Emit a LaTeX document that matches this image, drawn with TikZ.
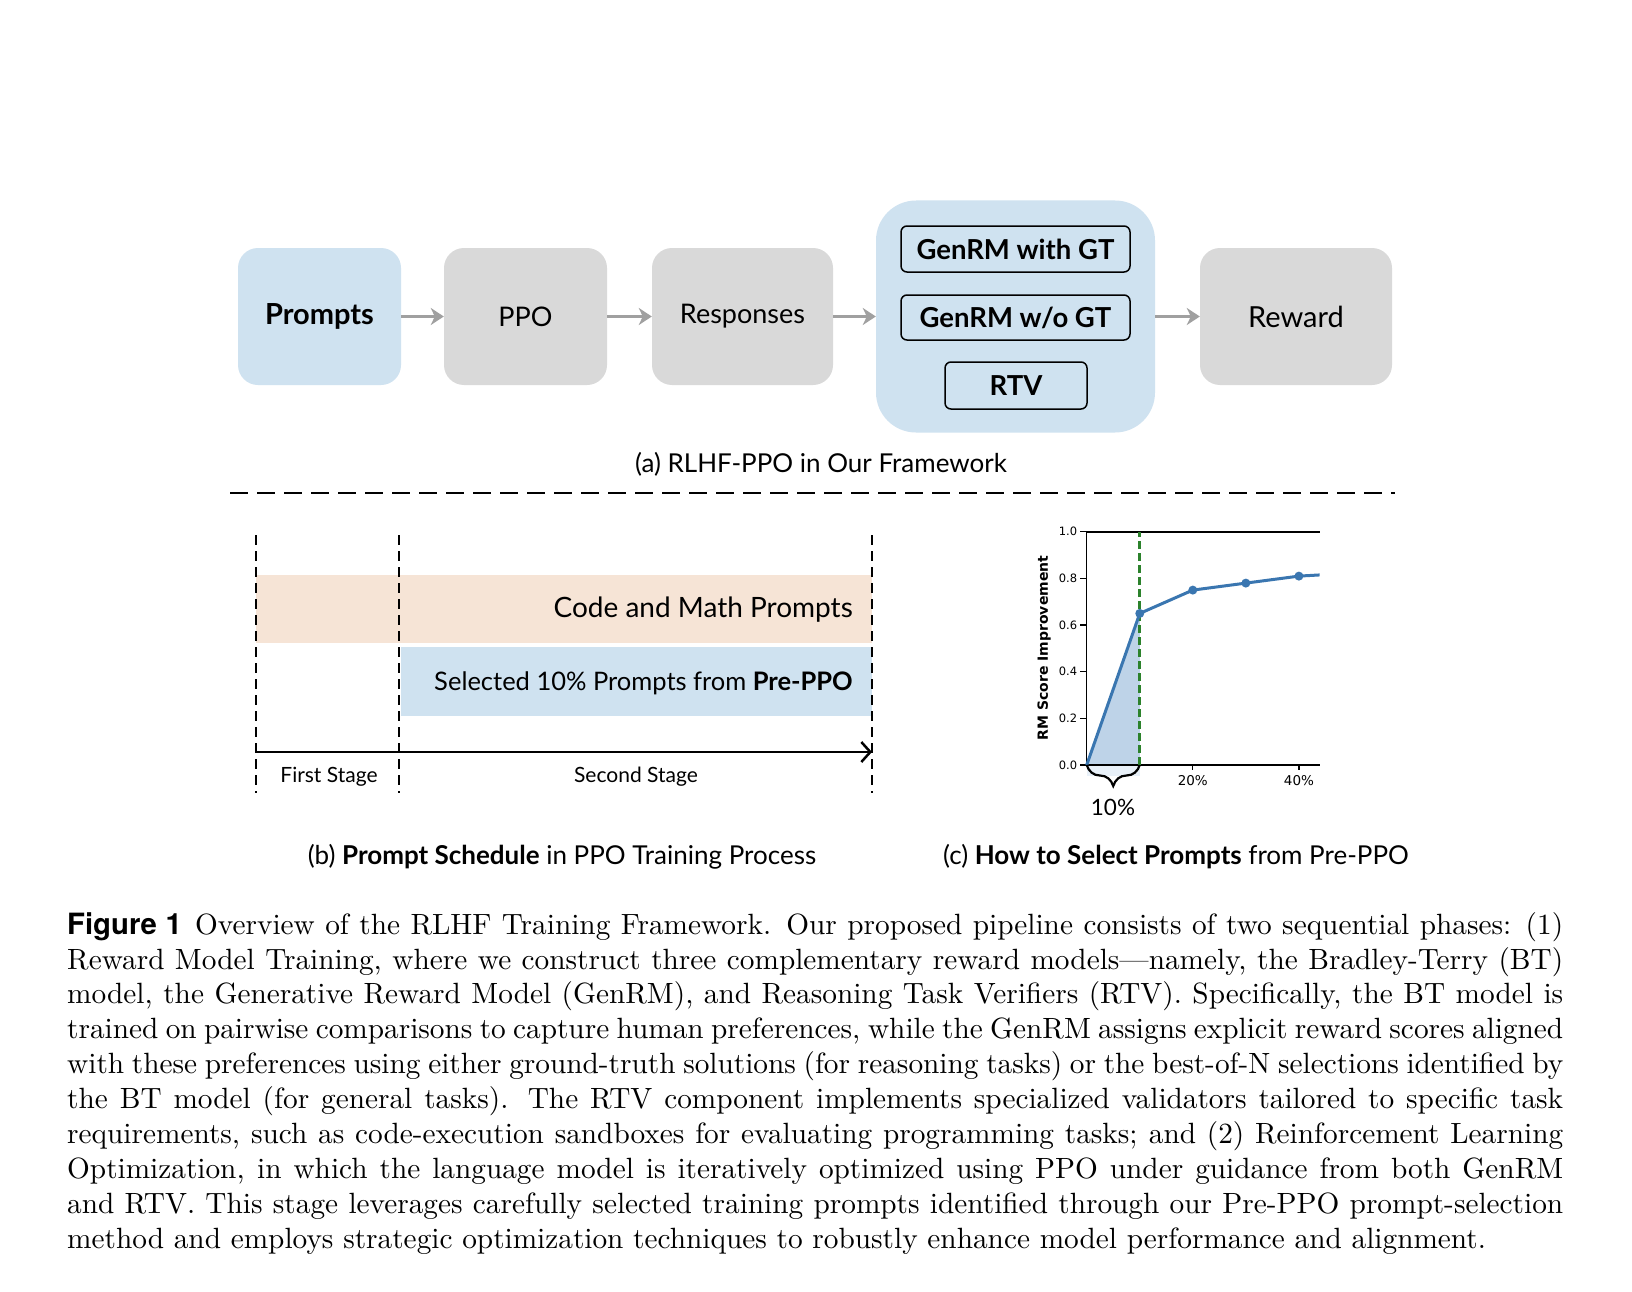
\documentclass[tikz,border=0pt]{standalone}
\usepackage{fontspec}
\newfontfamily\dfont{Lato}
\newfontfamily\heros{TeX Gyre Heros}
\newfontfamily\dejavu{DejaVu Sans}
\newfontfamily\capfont{lmroman10-regular.otf}
\usetikzlibrary{arrows.meta,decorations.pathreplacing}
\definecolor{lblue}{RGB}{207,226,240}
\definecolor{lgray}{RGB}{217,217,217}
\definecolor{peach}{RGB}{246,228,214}
\definecolor{arrgray}{RGB}{160,160,160}
\definecolor{pblue}{RGB}{58,118,176}
\definecolor{pfill}{RGB}{190,211,232}
\definecolor{bracefill}{RGB}{232,240,248}
\definecolor{pgreen}{RGB}{44,130,44}
\tikzset{
  bigbox/.style={rounded corners=20pt, minimum height=137pt, inner sep=0pt,
    font=\dfont\fontsize{27}{32}\selectfont},
  inbox/.style={draw=black, line width=1.5pt, rounded corners=6pt, fill=lblue, inner sep=0pt,
    font=\dfont\bfseries\fontsize{27.5}{32}\selectfont},
  garrow/.style={draw=arrgray, line width=3pt, -{Stealth[length=13pt,width=17pt,inset=4pt]}},
  subcap/.style={font=\dfont\fontsize{26}{30}\selectfont, inner sep=0pt},
  vdash/.style={line width=2.5pt, dash pattern=on 10pt off 6pt},
  band/.style={anchor=north west, inner sep=0pt},
  bandtext/.style={anchor=east, inner sep=0pt, font=\dfont\fontsize{28}{32}\selectfont},
  stagetext/.style={inner sep=0pt, font=\dfont\fontsize{21}{25}\selectfont},
  ytick/.style={left, inner sep=2pt, font=\dejavu\fontsize{11.5}{13}\selectfont},
  xtick/.style={below, inner sep=5pt, font=\dejavu\fontsize{13.5}{16}\selectfont},
}
\begin{document}
\begin{tikzpicture}[x=1pt,y=-1pt]
\useasboundingbox[fill=white] (0,0) rectangle (1632,1292);

% ---------- (a) pipeline ----------
\node[bigbox, fill=lblue, minimum width=163pt, font=\dfont\bfseries\fontsize{29}{34}\selectfont] (prompts) at (319.5,316.5) {Prompts};
\node[bigbox, fill=lgray, minimum width=163pt] (ppo) at (525.5,316.5) {PPO};
\node[bigbox, fill=lgray, minimum width=181pt] (resp) at (742.5,316.5) {Responses};
\node[fill=lblue, rounded corners=40pt, minimum width=279pt, minimum height=232pt, inner sep=0pt] (rm) at (1015.5,316.5) {};
\node[inbox, minimum width=229pt, minimum height=46pt] (gt) at (1015.5,249) {GenRM with GT};
\node[inbox, minimum width=229pt, minimum height=45pt] (nogt) at (1015.5,317.5) {GenRM w/o GT};
\node[inbox, minimum width=142pt, minimum height=47pt] (rtv) at (1016,385.5) {RTV};
\node[bigbox, fill=lgray, minimum width=192pt, font=\dfont\fontsize{29}{34}\selectfont] (reward) at (1296,316.5) {Reward};

\draw[garrow] (prompts) -- (ppo);
\draw[garrow] (ppo) -- (resp);
\draw[garrow] (resp) -- (rm);
\draw[garrow] (rm) -- (reward);

\node[subcap] (capa) at (821,464) {(a) RLHF-PPO in Our Framework};

\coordinate (dl) at (230,493);
\coordinate (dr) at (1395,493);
\draw[line width=2.5pt, dash pattern=on 18pt off 9pt] (dl) -- (dr);

% ---------- (b) prompt schedule ----------
\node[band, fill=peach, minimum width=616pt, minimum height=68pt] (peachband) at (256,575) {};
\node[band, fill=lblue, minimum width=471pt, minimum height=69pt] (blueband) at (401,647) {};
\node[bandtext] (cmp) at (853,610) {Code and Math Prompts};
\node[bandtext, font=\dfont\fontsize{25.5}{30}\selectfont] (sel) at (853,683) {Selected 10\% Prompts from \textbf{Pre-PPO}};

\coordinate (v1t) at (256,535); \coordinate (v1b) at (256,793);
\coordinate (v2t) at (399,535); \coordinate (v2b) at (399,793);
\coordinate (v3t) at (872,535); \coordinate (v3b) at (872,793);
\draw[vdash] (v1t) -- (v1b);
\draw[vdash] (v2t) -- (v2b);
\draw[vdash] (v3t) -- (v3b);

\coordinate (tl) at (256,752);
\coordinate (tr) at (872,752);
\draw[line width=2.5pt, -{Straight Barb[length=9pt,width=20pt,line width=2.5pt]}] (tl) -- (tr);

\node[stagetext] (first) at (329,777) {First Stage};
\node[stagetext] (second) at (636,777) {Second Stage};

\node[subcap] (capb) at (562,857) {(b) \textbf{Prompt Schedule} in PPO Training Process};
\node[subcap] (capc) at (1176,857) {(c) \textbf{How to Select Prompts} from Pre-PPO};

% ---------- (c) plot ----------
\begin{scope}[shift={(1086.7,765)}, x=5.305pt, y=233.2pt]
  \fill[bracefill] (0,0) rectangle (10,-0.045);
  \fill[pfill] (0,0) -- (10,0.65) -- (10,0) -- cycle;
  \draw[line width=1.4pt] (0,1) -- (0,0) -- (43.9,0);
  \draw[line width=1.4pt] (0,1) -- (43.9,1);
  \foreach \v/\l in {0/0.0,0.2/0.2,0.4/0.4,0.6/0.6,0.8/0.8,1/1.0}
    \draw[line width=1.2pt] (0,\v) -- ++(-7pt,0) node[ytick] {\l};
  \foreach \p in {20,40}
    \draw[line width=1.2pt] (\p,0) -- ++(0,-5pt) node[xtick] {\p\%};
  \draw[pgreen, line width=3pt, dash pattern=on 8pt off 4pt] (10,0) -- (10,1);
  \draw[pblue, line width=3pt, line join=round] (0,0) -- (10,0.65) -- (20,0.75) -- (30,0.78) -- (40,0.81) -- (43.9,0.815);
  \foreach \p/\v in {10/0.65,20/0.75,30/0.78,40/0.81}
    \fill[pblue] (\p,\v) circle (4.5pt);
  \draw[decorate, decoration={brace, mirror, amplitude=21pt}, line width=2.2pt] (0,0) -- (10,0);
\end{scope}
\node[rotate=90, inner sep=0pt, font=\dejavu\bfseries\fontsize{14}{16}\selectfont] (ylab) at (1044,648) {RM Score Improvement};
\node[inner sep=0pt, font=\dfont\fontsize{22.5}{26}\selectfont] (ten) at (1113,807) {10\%};

% ---------- caption ----------
\node[anchor=north west, inner sep=0pt, text width=1496pt, align=justify,
      font=\capfont\fontsize{29.3}{34.9}\selectfont] (caption) at (67,912) {\hyphenpenalty=10000
{\heros\bfseries Figure 1}\hspace{0.45em}Overview of the RLHF Training Framework. Our proposed pipeline consists of two sequential phases: (1)\linebreak
Reward Model Training, where we construct three complementary reward models—namely, the Bradley-Terry (BT)\linebreak
model, the Generative Reward Model (GenRM), and Reasoning Task Verifiers (RTV). Specifically, the BT model is\linebreak
trained on pairwise comparisons to capture human preferences, while the GenRM assigns explicit reward scores aligned\linebreak
with these preferences using either ground-truth solutions (for reasoning tasks) or the best-of-N selections identified by\linebreak
the BT model (for general tasks). The RTV component implements specialized validators tailored to specific task\linebreak
requirements, such as code-execution sandboxes for evaluating programming tasks; and (2) Reinforcement Learning\linebreak
Optimization, in which the language model is iteratively optimized using PPO under guidance from both GenRM\linebreak
and RTV. This stage leverages carefully selected training prompts identified through our Pre-PPO prompt-selection\linebreak
method and employs strategic optimization techniques to robustly enhance model performance and alignment.};
\end{tikzpicture}
\end{document}
